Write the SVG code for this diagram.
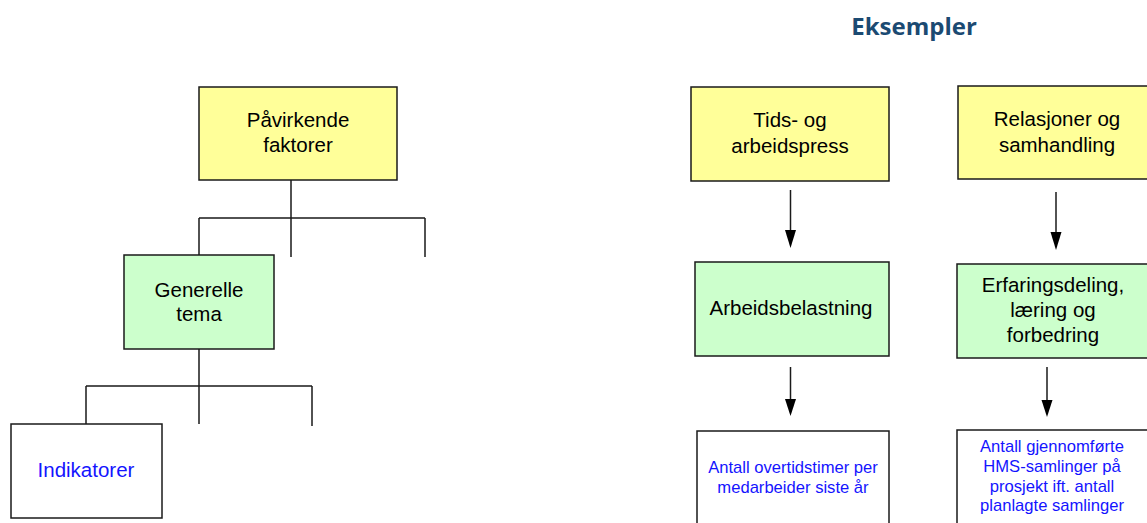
<svg xmlns="http://www.w3.org/2000/svg" width="1147" height="523" viewBox="0 0 1147 523">
<style>
.box{stroke:#1a1a1a;stroke-width:1.5}
.yel{fill:#FFFF99}
.grn{fill:#CCFFCC}
.wht{fill:#FFFFFF}
.lbl{font-family:"Liberation Sans",Arial,sans-serif;font-size:20.5px;fill:#000;text-anchor:middle}
.ind{font-family:"Liberation Sans",Arial,sans-serif;font-size:20.5px;fill:#1414FF;text-anchor:middle}
.sm{font-family:"Liberation Sans",Arial,sans-serif;font-size:16.6px;fill:#1414FF;text-anchor:middle}
.ttl{font-family:"Open Sans","DejaVu Sans",sans-serif;font-size:24px;font-weight:bold;fill:#1B4A72;text-anchor:middle}
.con{stroke:#1a1a1a;stroke-width:1.5;fill:none}
</style>
<rect width="1147" height="523" fill="#fff"/>
<text class="ttl" x="914" y="35">Eksempler</text>
<g id="connectors">
<path class="con" d="M291,180 V257 M199,218 H425 M199,218 V255 M425,218 V257"/>
<path class="con" d="M199,349 V424 M86,386 H312 M86,386 V424 M312,386 V426"/>
<path class="con" d="M790.5,190 V230"/><path d="M785,230 L796,230 L790.5,248 Z" fill="#000"/>
<path class="con" d="M1056,192 V232"/><path d="M1050.5,232 L1061.5,232 L1056,250 Z" fill="#000"/>
<path class="con" d="M790.5,367 V399"/><path d="M785,399 L796,399 L790.5,416 Z" fill="#000"/>
<path class="con" d="M1047,367 V400"/><path d="M1041.5,400 L1052.5,400 L1047,417 Z" fill="#000"/>
</g>
<g id="pavirkende">
<rect class="box yel" x="199" y="87" width="198" height="93"/>
<text class="lbl" x="298" y="127">Påvirkende</text>
<text class="lbl" x="298" y="152">faktorer</text>
</g>
<g id="generelle">
<rect class="box grn" x="124" y="255" width="150" height="94"/>
<text class="lbl" x="199" y="297">Generelle</text>
<text class="lbl" x="199" y="321">tema</text>
</g>
<g id="indikatorer">
<rect class="box wht" x="11" y="424" width="151" height="94"/>
<text class="ind" x="86" y="477">Indikatorer</text>
</g>
<g id="tids">
<rect class="box yel" x="691" y="87" width="198" height="94"/>
<text class="lbl" x="790" y="127">Tids- og</text>
<text class="lbl" x="790" y="153">arbeidspress</text>
</g>
<g id="relasjoner">
<rect class="box yel" x="958" y="86" width="194" height="93"/>
<text class="lbl" x="1057" y="126">Relasjoner og</text>
<text class="lbl" x="1057" y="152">samhandling</text>
</g>
<g id="arbeidsbelastning">
<rect class="box grn" x="695" y="262" width="194" height="94"/>
<text class="lbl" x="791" y="315">Arbeidsbelastning</text>
</g>
<g id="erfaringsdeling">
<rect class="box grn" x="957" y="264" width="195" height="94"/>
<text class="lbl" x="1053" y="292">Erfaringsdeling,</text>
<text class="lbl" x="1053" y="317">læring og</text>
<text class="lbl" x="1053" y="342">forbedring</text>
</g>
<g id="overtid">
<rect class="box wht" x="697" y="431" width="192" height="100"/>
<text class="sm" x="793" y="473">Antall overtidstimer per</text>
<text class="sm" x="793" y="493">medarbeider siste år</text>
</g>
<g id="hms">
<rect class="box wht" x="957" y="430" width="195" height="100"/>
<text class="sm" x="1052" y="452">Antall gjennomførte</text>
<text class="sm" x="1052" y="472">HMS-samlinger på</text>
<text class="sm" x="1052" y="492">prosjekt ift. antall</text>
<text class="sm" x="1052" y="511">planlagte samlinger</text>
</g>
</svg>
